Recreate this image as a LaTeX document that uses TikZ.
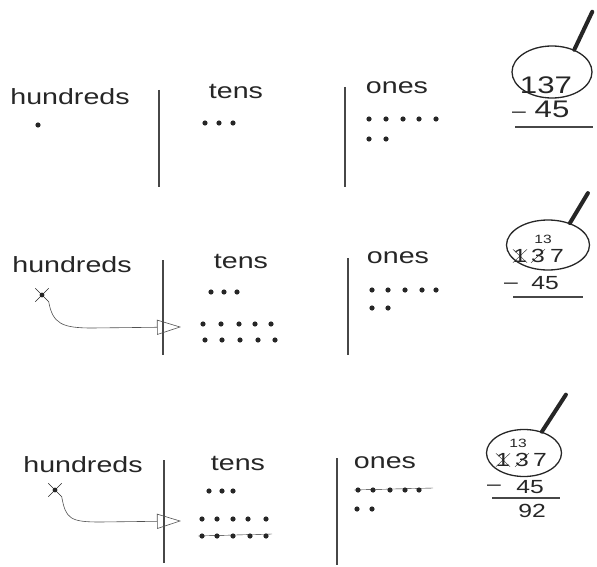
\documentclass[tikz,border=0pt]{standalone}
\usepackage{fontspec}
\newfontfamily\handfont[FakeStretch=1.3]{Liberation Sans}
\usetikzlibrary{shapes.geometric,shapes.misc,arrows.meta}

\definecolor{pencil}{HTML}{262626}

\tikzset{
  colhead/.style={font=\handfont\fontsize{22}{22}\selectfont, text=pencil, inner sep=0pt},
  bigdigit/.style={font=\handfont\fontsize{24}{24}\selectfont, text=pencil, inner sep=0pt},
  digit/.style={font=\handfont\fontsize{19}{19}\selectfont, text=pencil, inner sep=0pt},
  tinydigit/.style={font=\handfont\fontsize{12}{12}\selectfont, text=pencil, inner sep=0pt},
  rule/.style={line width=1.1pt, pencil!85},
  lens/.style={ellipse, draw=pencil, line width=1.3pt, inner sep=0pt},
  handle/.style={line width=4pt, pencil, line cap=round},
  crossed/.style={cross out, draw=pencil, thin, minimum size=13pt, inner sep=0pt},
  borrow/.style={pencil!80, line width=0.6pt, -{Triangle[open, length=24pt, width=15pt]}}
}

\begin{document}
\begin{tikzpicture}[x=1pt, y=-1pt]
  \useasboundingbox (0,0) rectangle (597,567);

  % --- Row 1: 137 - 45 ---
  \node[colhead] (hun1) at (70,97) {hundreds};
  \node[colhead] (ten1) at (236,91) {tens};
  \node[colhead] (one1) at (397,88) {ones};
  \draw[rule] (159,90) -- (159,187);
  \draw[rule] (345,87) -- (345,187);

  \fill[pencil] (38,125) circle (2.6pt);
  \foreach \x in {205,219,233} \fill[pencil] (\x,123) circle (2.6pt);
  \foreach \x in {369,386,403,419,436} \fill[pencil] (\x,119) circle (2.6pt);
  \foreach \x in {369,386} \fill[pencil] (\x,139) circle (2.6pt);

  % --- Row 1 magnifier ---
  \node[lens, minimum width=80pt, minimum height=52pt] (mag1) at (552,72) {};
  \draw[handle] (mag1.45) -- ++(18,-38);
  \node[bigdigit] (num1) at (546,85) {137};
  \node[digit] (min1) at (519,115) {–};
  \node[bigdigit] (sub1) at (552,109) {45};
  \draw[rule] (515,127) -- (593,127);

  % --- Row 2: borrow from hundreds ---
  \node[colhead] (hun2) at (72,265) {hundreds};
  \node[colhead] (ten2) at (241,261) {tens};
  \node[colhead] (one2) at (398,258) {ones};
  \draw[rule] (163,260) -- (163,355);
  \draw[rule] (348,258) -- (348,355);

  \node[crossed] (x2) at (42,295) {};
  \fill[pencil] (x2) circle (2.4pt);
  \coordinate (bend2) at (92,328);
  \coordinate (tip2) at (181,327);
  \draw[borrow] (x2.south east) .. controls +(4,22) and +(-30,0) .. (bend2) -- (tip2);

  \foreach \x in {211,224,237} \fill[pencil] (\x,292) circle (2.6pt);
  \foreach \x in {203,221,239,255,271} \fill[pencil] (\x,324) circle (2.6pt);
  \foreach \x in {205,222,240,258,275} \fill[pencil] (\x,340) circle (2.6pt);
  \foreach \x in {372,388,405,422,436} \fill[pencil] (\x,290) circle (2.6pt);
  \foreach \x in {372,388} \fill[pencil] (\x,308) circle (2.6pt);

  % --- Row 2 magnifier ---
  \node[lens, minimum width=83pt, minimum height=50pt] (mag2) at (548,245) {};
  \draw[handle] (mag2.45) -- ++(18,-30);
  \node[tinydigit] (carry2) at (543,239) {13};
  \node[digit, crossed] (h2) at (520,256) {1};
  \node[digit] (t2) at (538,256) {3};
  \node[digit] (o2) at (557,256) {7};
  \draw[pencil, thin] (t2.south west) -- (t2.north east);
  \node[digit] (min2) at (511,286) {–};
  \node[digit] (sub2) at (545,283) {45};
  \draw[rule] (513,297) -- (583,297);

  % --- Row 3: take away the ones and tens ---
  \node[colhead] (hun3) at (83,465) {hundreds};
  \node[colhead] (ten3) at (238,463) {tens};
  \node[colhead] (one3) at (385,463) {ones};
  \draw[rule] (164,460) -- (164,563);
  \draw[rule] (337,458) -- (337,565);

  \node[crossed] (x3) at (55,490) {};
  \fill[pencil] (x3) circle (2.4pt);
  \coordinate (bend3) at (100,522);
  \coordinate (tip3) at (181,521);
  \draw[borrow] (x3.south east) .. controls +(4,22) and +(-30,0) .. (bend3) -- (tip3);

  \foreach \x in {209,222,233} \fill[pencil] (\x,491) circle (2.6pt);
  \foreach \x in {202,217,233,248,266} \fill[pencil] (\x,519) circle (2.6pt);
  \foreach \x in {202,217,233,250,266} \fill[pencil] (\x,536) circle (2.6pt);
  \draw[pencil, thin] (198,536) -- (272,534);
  \foreach \x in {358,373,390,405,419} \fill[pencil] (\x,490) circle (2.6pt);
  \draw[pencil, thin] (354,490) -- (433,488);
  \foreach \x in {357,372} \fill[pencil] (\x,509) circle (2.6pt);

  % --- Row 3 magnifier ---
  \node[lens, minimum width=75pt, minimum height=47pt] (mag3) at (524,453) {};
  \draw[handle] (mag3.50) -- ++(24,-37);
  \node[tinydigit] (carry3) at (518,443) {13};
  \node[digit, crossed] (h3) at (503,460) {1};
  \node[digit] (t3) at (522,460) {3};
  \node[digit] (o3) at (540,460) {7};
  \draw[pencil, thin] (t3.south west) -- (t3.north east);
  \node[digit] (min3) at (494,488) {–};
  \node[digit] (sub3) at (530,487) {45};
  \draw[rule] (492,498) -- (560,498);
  \node[digit] (dif3) at (532,511) {92};
\end{tikzpicture}
\end{document}
